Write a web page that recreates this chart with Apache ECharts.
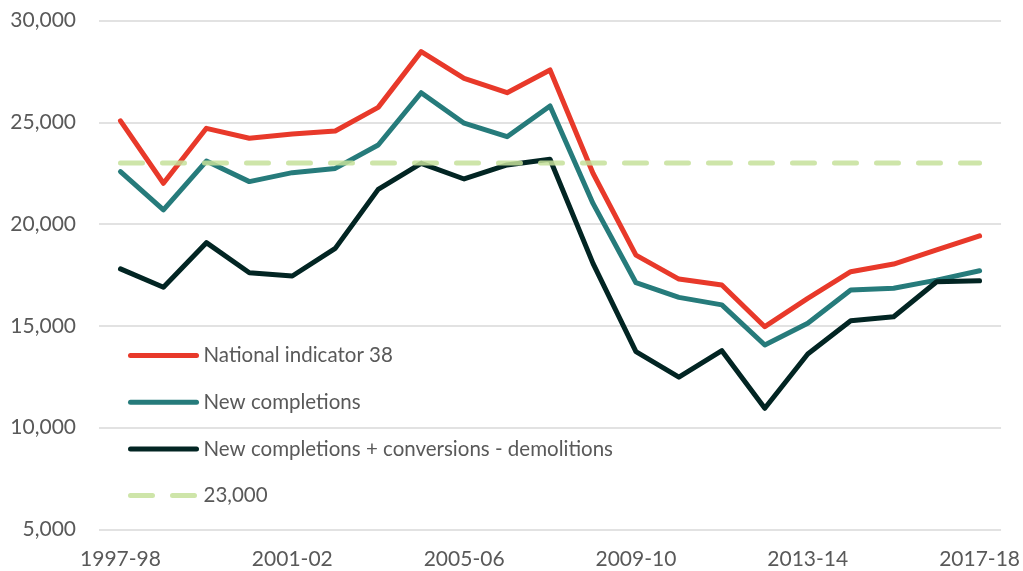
<!DOCTYPE html>
<html>
<head>
<meta charset="utf-8">
<script src="https://cdn.jsdelivr.net/npm/echarts@6/dist/echarts.min.js"></script>
<style>
  html, body { margin: 0; padding: 0; background: #fff; }
  #main { width: 1023px; height: 571px; }
</style>
</head>
<body>
<div id="main"></div>
<script>
var years = ['1997-98', '1998-99', '1999-00', '2000-01', '2001-02', '2002-03', '2003-04',
    '2004-05', '2005-06', '2006-07', '2007-08', '2008-09', '2009-10', '2010-11',
    '2011-12', '2012-13', '2013-14', '2014-15', '2015-16', '2016-17', '2017-18'];

// National indicator 38
var ni38 = [25080, 22010, 24710, 24220, 24430, 24580, 25740, 28480, 27170, 26460, 27580,
    22500, 18480, 17300, 17010, 14960, 16350, 17660, 18040, 18730, 19420];

// New completions
var newCompletions = [22580, 20700, 23100, 22090, 22530, 22740, 23890, 26460, 24960, 24300, 25810,
    21020, 17120, 16400, 16030, 14060, 15130, 16760, 16850, 17250, 17710];

// New completions + conversions - demolitions
var netAdditions = [17800, 16900, 19090, 17610, 17450, 18810, 21710, 22990, 22220, 22910, 23190,
    18070, 13730, 12480, 13780, 10950, 13620, 15250, 15450, 17170, 17220];

// 23,000 target line
var target = [23000, 23000, 23000, 23000, 23000, 23000, 23000, 23000, 23000, 23000, 23000,
    23000, 23000, 23000, 23000, 23000, 23000, 23000, 23000, 23000, 23000];

var FONT = 'Lato';
var TXT = '#595959';

var myChart = echarts.init(document.getElementById('main'));

var line = function(name, data, color, dash) {
    return {
        name: name,
        type: 'line',
        data: data,
        symbol: 'none',
        smooth: false,
        lineStyle: { color: color, width: 5, type: dash || 'solid', cap: 'round', join: 'round',
            opacity: dash ? 0.85 : 1 },
        itemStyle: { color: color },
        emphasis: { disabled: true }
    };
};

option = {
    animation: false,
    grid: { left: 99, right: 21, top: 20.7, bottom: 41.7, containLabel: false },
    legend: {
        orient: 'vertical',
        left: 123,
        top: 340,
        itemWidth: 66,
        itemHeight: 14,
        itemGap: 25.7,
        lineStyle: { width: 5, cap: 'round' },
        itemStyle: { opacity: 0 },
        textStyle: { fontFamily: FONT, fontSize: 20.5, color: TXT, lineHeight: 20, padding: [0, 0, 0, 2] },
        data: ['National indicator 38', 'New completions',
            'New completions + conversions - demolitions', '23,000']
    },
    xAxis: {
        type: 'category',
        data: years,
        boundaryGap: true,
        axisLine: { show: false },
        axisTick: { show: false },
        axisLabel: { interval: 3, margin: 19, fontFamily: FONT, fontSize: 21, color: TXT }
    },
    yAxis: {
        type: 'value',
        min: 5000,
        max: 30000,
        interval: 5000,
        axisLine: { show: false },
        axisTick: { show: false },
        splitLine: { lineStyle: { color: '#d9d9d9', width: 1.5 } },
        axisLabel: {
            margin: 23, fontFamily: FONT, fontSize: 21, color: TXT,
            formatter: function(v) { return v.toLocaleString('en-US'); }
        }
    },
    series: [
        line('National indicator 38', ni38, '#E8392A'),
        line('New completions', newCompletions, '#267B7B'),
        line('New completions + conversions - demolitions', netAdditions, '#022523'),
        line('23,000', target, '#C6E09A', [22, 20])
    ]
};

myChart.setOption(option);
</script>
</body>
</html>
